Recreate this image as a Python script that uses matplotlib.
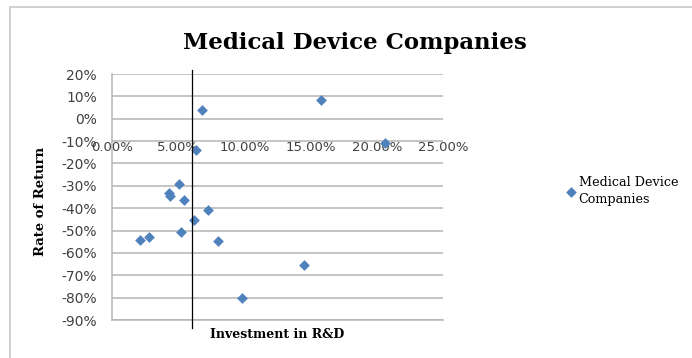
import matplotlib.pyplot as plt
from matplotlib.patches import Rectangle

# Gasto em P&D (fração) e taxa de retorno de cada empresa
investimento = [0.0682, 0.1576, 0.2060, 0.0634, 0.0509, 0.0433, 0.0440, 0.0546,
                0.0728, 0.0622, 0.0519, 0.0280, 0.0211, 0.0798, 0.1450, 0.0982]
retorno = [0.039, 0.085, -0.110, -0.140, -0.293, -0.331, -0.345, -0.364,
           -0.410, -0.453, -0.507, -0.530, -0.544, -0.548, -0.654, -0.800]

x_ticks = [0.0, 0.05, 0.10, 0.15, 0.20, 0.25]
y_ticks = [0.2, 0.1, 0.0, -0.1, -0.2, -0.3, -0.4, -0.5, -0.6, -0.7, -0.8, -0.9]
linha_vertical = 0.0604

azul = '#4F81BD'
cinza = '#B4B4B4'
texto = '#404040'
serif = 'DejaVu Serif'

fig = plt.figure(figsize=(6.92, 3.58), dpi=100)
ax = fig.add_axes([112/692, 1 - 320/358, (443 - 112)/692, (320 - 74)/358])

# moldura do gráfico (cortada nas bordas direita e inferior)
fig.patches.append(Rectangle((10/692, -0.2), 1.2, 1 - 7/358 + 0.2,
                             transform=fig.transFigure, fill=False,
                             edgecolor='#C8C8C8', linewidth=1.2, clip_on=False))

ax.scatter(investimento, retorno, marker='D', s=30, color=azul, zorder=3,
           linewidths=0, label='Medical Device\nCompanies')

ax.set_xlim(0, 0.25)
ax.set_ylim(-0.9, 0.2)
ax.set_yticks(y_ticks)
ax.set_yticklabels(['%d%%' % round(v*100) for v in y_ticks], color=texto, fontsize=10)
ax.set_xticks([])
ax.tick_params(axis='y', length=0, pad=11)
ax.grid(True, axis='y', color=cinza, linewidth=1.1)

for lado in ['top', 'right']:
    ax.spines[lado].set_visible(False)
ax.spines['left'].set_color(cinza)
ax.spines['bottom'].set_color(cinza)
ax.spines['left'].set_linewidth(1.1)
ax.spines['bottom'].set_linewidth(1.1)

# rótulos do eixo x em cima da linha de -10%
for v in x_ticks:
    ax.text(v, -0.1, '%.2f%%' % (v*100), ha='center', va='top', color=texto,
            fontsize=9.5, clip_on=False, zorder=2)

ax.plot([linha_vertical, linha_vertical], [0.218, -0.936], color='black',
        linewidth=0.9, clip_on=False, zorder=4)

fig.text(355/692, 1 - 49/358, 'Medical Device Companies', family=serif,
         fontweight='bold', fontsize=16.5, ha='center', va='baseline')
ax.set_xlabel('Investment in R&D', family=serif, fontweight='bold', fontsize=9,
              labelpad=6)
fig.text(40/692, 1 - 201/358, 'Rate of Return', family=serif, fontweight='bold',
         fontsize=9.5, rotation=90, ha='center', va='center')

leg = ax.legend(loc='center left', bbox_to_anchor=(1.356, 0.525), frameon=False,
                prop={'family': serif, 'size': 9.2}, handletextpad=0.2,
                handlelength=0.8, borderaxespad=0)
for t in leg.get_texts():
    t.set_linespacing(1.45)

fig.savefig('out.png', dpi=100)
